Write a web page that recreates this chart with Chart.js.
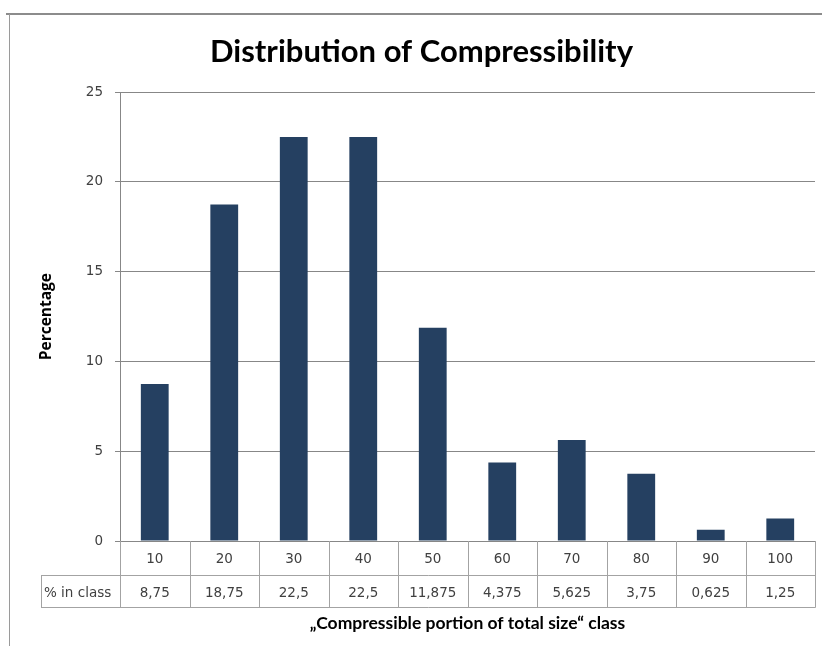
<!DOCTYPE html>
<html>
<head>
<meta charset="utf-8">
<script src="https://cdn.jsdelivr.net/npm/chart.js@4/dist/chart.umd.min.js"></script>
<style>
  html, body { margin: 0; padding: 0; background: #ffffff; }
  #wrap { width: 822px; height: 646px; position: relative; }
</style>
</head>
<body>
<div id="wrap"><canvas id="chart" width="822" height="646"></canvas></div>
<script>
// Class labels (upper bound of the compressible share, %)
const classes = ['10', '20', '30', '40', '50', '60', '70', '80', '90', '100'];
// Share of files falling in each class, %
const percentInClass = [8.75, 18.75, 22.5, 22.5, 11.875, 4.375, 5.625, 3.75, 0.625, 1.25];
// Value axis ticks
const yTicks = [0, 5, 10, 15, 20, 25];
const tableRowLabel = '% in class';

const TITLE_FONT = 'Lato, "Open Sans", sans-serif';
const LABEL_FONT = '"DejaVu Sans", Verdana, sans-serif';
const AXIS_TITLE_FONT = '"Open Sans", Lato, sans-serif';
const SMALL = 13.5;
const GRID = '#878787';
const TABLE_LINE = '#a3a3a3';
const TEXT = '#404040';

const fmt = v => String(v).replace('.', ',');

// Outer frame of the chart object
const framePlugin = {
  id: 'frame',
  beforeDraw(chart) {
    const ctx = chart.ctx;
    ctx.save();
    ctx.fillStyle = '#ffffff';
    ctx.fillRect(0, 0, chart.width, chart.height);
    ctx.strokeStyle = '#8c8c8c';
    ctx.lineWidth = 2;
    ctx.beginPath();
    ctx.moveTo(6, 14);
    ctx.lineTo(chart.width, 14);
    ctx.stroke();
    ctx.lineWidth = 1;
    ctx.strokeStyle = '#9a9a9a';
    ctx.beginPath();
    ctx.moveTo(9.5, 14);
    ctx.lineTo(9.5, chart.height);
    ctx.stroke();
    ctx.restore();
  }
};

// Data table under the category axis
const tablePlugin = {
  id: 'classTable',
  afterDraw(chart) {
    const { ctx, chartArea } = chart;
    const x = chart.scales.x;
    const n = classes.length;
    const half = (x.getPixelForValue(1) - x.getPixelForValue(0)) / 2;
    const top = Math.round(chartArea.bottom);
    const row1 = top + 34;
    const row2 = row1 + 32;
    const labelLeft = 41;
    const snap = v => Math.round(v) + 0.5;

    ctx.save();
    ctx.strokeStyle = TABLE_LINE;
    ctx.lineWidth = 1;
    ctx.beginPath();
    for (let i = 0; i <= n; i++) {
      const px = i < n ? x.getPixelForValue(i) - half : x.getPixelForValue(n - 1) + half;
      ctx.moveTo(snap(px), top);
      ctx.lineTo(snap(px), row2 + 0.5);
    }
    ctx.moveTo(labelLeft, row1 + 0.5);
    ctx.lineTo(snap(chartArea.right), row1 + 0.5);
    ctx.moveTo(labelLeft, row2 + 0.5);
    ctx.lineTo(snap(chartArea.right), row2 + 0.5);
    ctx.moveTo(labelLeft + 0.5, row1);
    ctx.lineTo(labelLeft + 0.5, row2 + 0.5);
    ctx.stroke();

    ctx.fillStyle = TEXT;
    ctx.font = SMALL + 'px ' + LABEL_FONT;
    ctx.textBaseline = 'middle';
    const cy = (row1 + row2) / 2 + 2;
    ctx.textAlign = 'left';
    ctx.fillText(tableRowLabel, labelLeft + 3, cy);
    ctx.textAlign = 'center';
    chart.data.datasets[0].data.forEach((v, i) => {
      ctx.fillText(fmt(v), x.getPixelForValue(i), cy);
    });
    ctx.restore();
  }
};

new Chart(document.getElementById('chart'), {
  type: 'bar',
  data: {
    labels: classes,
    datasets: [{
      label: 'Percentage',
      data: percentInClass,
      backgroundColor: '#254061',
      borderWidth: 0,
      barPercentage: 0.4,
      categoryPercentage: 1.0
    }]
  },
  options: {
    responsive: false,
    animation: false,
    devicePixelRatio: 1,
    layout: { padding: { left: 28, right: 7, top: 0, bottom: 0 } },
    plugins: {
      legend: { display: false },
      tooltip: { enabled: false },
      title: {
        display: true,
        text: 'Distribution of Compressibility',
        color: '#000000',
        font: { family: TITLE_FONT, size: 31, weight: 'bold' },
        padding: { top: 33, bottom: 22 }
      }
    },
    scales: {
      x: {
        grid: { display: false, drawTicks: false },
        border: { display: true, color: GRID, width: 1 },
        ticks: {
          color: TEXT,
          font: { family: LABEL_FONT, size: SMALL },
          padding: 10,
          maxRotation: 0,
          autoSkip: false
        },
        title: {
          display: true,
          text: '\u201ECompressible portion of total size\u201C class',
          color: '#000000',
          font: { family: TITLE_FONT, size: 17.5, weight: 'bold' },
          padding: { top: 0, bottom: 12 }
        },
        afterFit(scale) { scale.height = 105; }
      },
      y: {
        min: 0,
        max: 25,
        afterBuildTicks(scale) { scale.ticks = yTicks.map(v => ({ value: v })); },
        grid: { color: GRID, tickLength: 5, drawTicks: true },
        border: { display: true, color: GRID, width: 1 },
        ticks: {
          color: TEXT,
          font: { family: LABEL_FONT, size: SMALL },
          padding: 12
        },
        title: {
          display: true,
          text: 'Percentage',
          color: '#000000',
          font: { family: AXIS_TITLE_FONT, size: 15.5, weight: 'bold' },
          padding: { top: 9, bottom: 0 }
        },
        afterFit(scale) { scale.width = 92; }
      }
    }
  },
  plugins: [framePlugin, tablePlugin]
});
</script>
</body>
</html>
